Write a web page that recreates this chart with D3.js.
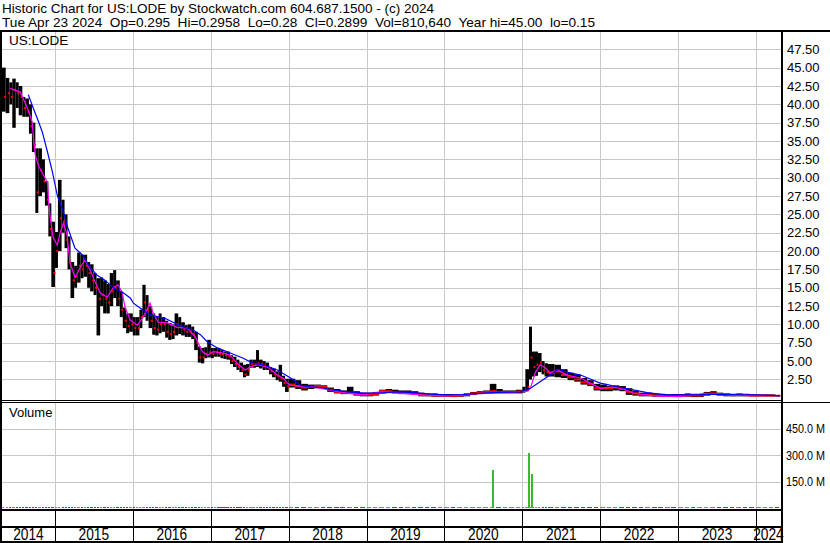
<!DOCTYPE html>
<html>
<head>
<meta charset="utf-8">
<script src="https://cdn.jsdelivr.net/npm/d3@7"></script>
<style>
  body { margin: 0; background: #fff; }
  svg { display: block; font-family: "Liberation Sans", Arial, sans-serif; }
  .pre { white-space: pre; }
</style>
</head>
<body>
<svg id="chart" width="830" height="543"></svg>
<script>
// ---- data (US:LODE, 10 yr) ----
var barDates = [
  "2014-04-24","2014-05-15","2014-06-01","2014-06-15","2014-07-01","2014-07-15","2014-08-01","2014-08-15",
  "2014-09-01","2014-09-15","2014-10-01","2014-10-15","2014-11-01","2014-11-15","2014-12-01","2014-12-15",
  "2015-01-01","2015-01-15","2015-02-01","2015-02-15","2015-03-01","2015-03-15","2015-04-01","2015-04-15",
  "2015-05-01","2015-05-15","2015-06-01","2015-06-15","2015-07-01","2015-07-15","2015-08-01","2015-08-15",
  "2015-09-01","2015-09-15","2015-10-01","2015-10-15","2015-11-01","2015-11-15","2015-12-01","2015-12-15",
  "2016-01-01","2016-01-15","2016-02-01","2016-02-15","2016-03-01","2016-03-15","2016-04-01","2016-04-15",
  "2016-05-01","2016-05-15","2016-06-01","2016-06-15","2016-07-01","2016-07-15","2016-08-01","2016-08-15",
  "2016-09-01","2016-09-15","2016-10-01","2016-10-15","2016-11-01","2016-11-15","2016-12-01","2016-12-15",
  "2017-01-01","2017-01-15","2017-02-01","2017-02-15","2017-03-01","2017-03-15","2017-04-01","2017-04-15",
  "2017-05-01","2017-05-15","2017-06-01","2017-06-15","2017-07-01","2017-07-15","2017-08-01","2017-08-15",
  "2017-09-01","2017-09-15","2017-10-01","2017-10-15","2017-11-01","2017-11-15","2017-12-01","2017-12-15",
  "2018-01-01","2018-02-01","2018-03-01","2018-04-01","2018-05-01","2018-06-01","2018-07-01","2018-08-01",
  "2018-09-01","2018-10-01","2018-11-01","2018-12-01",
  "2019-01-01","2019-02-01","2019-03-01","2019-04-01","2019-05-01","2019-06-01","2019-07-01","2019-08-01",
  "2019-09-01","2019-10-01","2019-11-01","2019-12-01",
  "2020-01-01","2020-02-01","2020-03-01","2020-04-01","2020-05-01","2020-06-01","2020-07-01","2020-08-01",
  "2020-09-01","2020-10-01","2020-11-01","2020-12-01",
  "2021-01-01","2021-01-15","2021-02-01","2021-02-15","2021-03-01","2021-03-15","2021-04-01","2021-04-15",
  "2021-05-01","2021-06-01","2021-07-01","2021-08-01","2021-09-01","2021-10-01","2021-11-01","2021-12-01",
  "2022-01-01","2022-02-01","2022-03-01","2022-04-01","2022-05-01","2022-06-01","2022-07-01","2022-08-01",
  "2022-09-01","2022-10-01","2022-11-01","2022-12-01",
  "2023-01-01","2023-02-01","2023-03-01","2023-04-01","2023-05-01","2023-06-01","2023-07-01","2023-08-01",
  "2023-09-01","2023-10-01","2023-11-01","2023-12-01",
  "2024-01-01","2024-02-01","2024-03-01","2024-04-01"
];
var barHigh = [
  45,43.6,43,43.5,43,42.5,41,40.8, 40,37.5,34,34,32.5,29.5,26.5,24,
  22.6,29.7,27,25,22,18.5,18,19.8, 19.5,19.5,18.5,18.2,17,16.3,16.4,16, 15.5,17,17.4,16,14.5,12.3,11.5,11.5,
  11,11,12,15.4,14,12.5,11.5,11, 11.5,11,10.5,10.2,10,11.5,11,10.3, 9.9,10,9.7,9,7,6.8,6.9,7.9,
  6.8,6.8,6.8,6.5,6.3,6.3,5.8,5.6, 5.2,4.8,4.5,4.6,5.2,5.2,6.5,5.2, 5,4.8,4.2,4,3.6,4.5,3,2.6,
  2.6,2.4,1.9,1.8,1.8,1.7,1.4,1.2,1.0,1.5,0.9,0.7,
  0.7,0.8,1.1,1.2,1.1,1.0,1.0,0.9,0.7,0.6,0.6,0.5,
  0.5,0.5,0.5,0.6,0.8,0.9,1.0,1.9,1.2,1.0,1.0,1.1,
  1.5,3.9,9.7,6.3,6.3,6.1,5.0,4.7, 4.6,4.5,3.9,3.4,3.2,2.7,2.4,1.9,
  1.8,1.6,1.7,1.6,1.3,1.0,0.7,0.7,0.6,0.55,0.5,0.5,
  0.5,0.6,0.55,0.5,0.8,0.9,0.7,0.6,0.55,0.6,0.55,0.5,
  0.45,0.45,0.45,0.3
];
var barLow = [
  39,38.8,40,36.8,39.5,38.5,38.3,38.3, 36,33.5,25.2,27.5,28,26.2,22,15.1,
  17.7,20,22.5,20.4,17.5,13.6,15,15.7, 16.3,16.5,15,14.5,14,8.5,12.5,11.5, 11.5,12.5,13.6,12.5,11,9.5,8.8,9,
  8.5,8.5,9.5,11,10.5,9.5,8.6,8.5, 8.8,9,8.2,7.9,8,8.5,8.7,8.5, 8.3,8.3,8,6.5,4.8,4.7,5.4,5.5,
  5.4,5.6,5.6,5.4,5.3,5.2,4.6,4.2, 3.8,3.5,2.8,3,4.1,4.1,4.2,4, 3.8,3.8,3.2,2.8,2.4,2.2,1.5,0.8,
  1.4,1.2,1.0,1.2,1.3,1.2,0.8,0.6,0.5,0.5,0.3,0.2,
  0.2,0.3,0.6,0.7,0.6,0.5,0.5,0.4,0.2,0.2,0.15,0.15,
  0.15,0.1,0.15,0.2,0.4,0.5,0.6,0.6,0.6,0.6,0.6,0.6,
  0.7,0.9,2.5,2.9,3.0,3.5,3.2,2.9, 2.9,2.8,2.7,2.4,2.2,1.8,1.6,1.0,
  0.9,0.9,1.0,0.9,0.4,0.3,0.2,0.2,0.15,0.15,0.15,0.1,
  0.15,0.15,0.1,0.1,0.3,0.4,0.3,0.2,0.2,0.2,0.2,0.2,
  0.2,0.2,0.2,0.28
];
var barClose = [
  41,41.5,41,42,41.5,41,39.5,39, 37,34.5,28,31,29.5,27,23,17,
  20,24.5,24,21.5,18.5,16,16.5,18, 17.5,18,17,16,15,13.5,14,13.5, 13,14.5,15,13.5,12,10.5,9.8,10,
  9.5,9.5,11,13,12,10.5,9.5,9.3, 10,10,9,8.7,9,10,9.8,9.3, 9,9,8.7,7.5,5.5,5.5,6,6.2,
  6,6.2,6,5.9,5.8,5.6,5,4.6, 4.2,3.8,3.2,3.8,4.6,4.6,4.7,4.6, 4.4,4.2,3.6,3.2,3,2.6,2,1.6,
  1.8,1.6,1.4,1.5,1.6,1.5,1.1,0.8,0.7,0.7,0.5,0.4,
  0.4,0.5,0.9,0.9,0.8,0.7,0.7,0.6,0.4,0.35,0.3,0.3,
  0.3,0.25,0.3,0.4,0.6,0.7,0.8,0.9,0.8,0.8,0.8,0.85,
  1.0,1.5,5.5,4.2,4.5,4.8,3.8,3.5, 3.4,3.6,3.1,2.8,2.5,2.1,1.9,1.3,
  1.3,1.3,1.4,1.2,0.8,0.6,0.4,0.4,0.35,0.3,0.3,0.25,
  0.3,0.35,0.3,0.3,0.55,0.6,0.5,0.4,0.35,0.4,0.35,0.3,
  0.3,0.3,0.3,0.29
];
// volume in millions, almost all of it sits on the floor of the panel
var barVolume = [
  4,3,4,3,3,4,3,3, 4,3,5,4,3,3,4,5,
  4,5,4,3,4,5,3,3, 3,4,3,3,4,5,3,3, 3,4,3,3,4,3,4,3,
  3,3,4,5,3,3,3,3, 3,3,3,4,3,3,3,3, 3,3,3,4,5,3,3,3,
  3,3,3,3,3,3,3,3, 3,3,4,3,3,3,4,3, 3,3,3,3,3,4,4,5,
  3,3,3,3,3,3,3,3,3,3,3,3,
  3,3,3,3,3,3,3,3,3,3,3,3,
  3,3,3,3,3,3,3,3,3,3,3,3,
  3,4,8,5,4,3,3,3, 3,3,3,3,3,3,3,3,
  3,3,3,3,3,3,3,3,3,3,3,3,
  3,3,3,3,3,3,3,3,3,3,3,3,
  3,3,3,3
];
var volSpikeDates = ["2020-08-12","2021-01-26","2021-01-28","2021-02-12","2021-02-15","2021-05-10","2022-01-03","2022-02-28","2023-03-01"];
var volSpikeValues = [216, 16, 315, 193, 12, 6, 5, 6, 5];
var volSpikeUp = [true, false, true, true, true, true, true, true, true];

// magenta = short moving average
var maShortDates = [
  "2014-06-05","2014-06-28","2014-07-22","2014-08-05","2014-08-29","2014-09-16","2014-09-25","2014-10-01",
  "2014-10-15","2014-11-03","2014-11-27","2014-12-01","2014-12-10","2014-12-24","2015-01-12","2015-01-26",
  "2015-02-10","2015-02-27","2015-03-12","2015-04-05","2015-04-28","2015-05-22","2015-06-15","2015-07-08",
  "2015-08-01","2015-09-03","2015-10-01","2015-10-24","2015-11-12","2015-11-26","2015-12-20","2016-01-22",
  "2016-02-19","2016-03-22","2016-04-06","2016-04-29","2016-06-11","2016-07-27","2016-09-13","2016-10-20",
  "2016-11-22","2016-12-16","2017-01-13","2017-03-01","2017-04-02","2017-05-04","2017-06-11","2017-07-04",
  "2017-08-07","2017-09-23","2017-11-09","2017-12-10","2017-12-25","2018-01-13","2018-02-26","2018-04-26",
  "2018-07-01","2018-10-03","2018-12-17","2019-03-06","2019-06-08","2019-09-11","2020-01-15","2020-04-18",
  "2020-07-20","2020-11-20","2021-01-25","2021-02-08","2021-03-02","2021-03-25","2021-04-18","2021-05-11",
  "2021-06-13","2021-07-30","2021-09-30","2021-11-16","2022-01-02","2022-03-02","2022-04-18","2022-06-04",
  "2022-09-07","2023-01-12","2023-05-08","2023-07-16","2023-10-18","2024-04-23"
];
var maShortValues = [
  42.2,41.9,41.7,40.8,39.2,37.6,34.5,33.1,
  31.7,30.6,29.4,27.2,24.5,21.8,20.8,22.6,
  23.8,22.2,18.5,16.4,17.7,18.8,17.4,15.8,
  14.3,13.7,15.0,15.4,14.4,12.3,10.6,9.9,
  11.0,12.9,11.5,10.3,10.2,9.6,9.5,8.3,
  6.3,5.8,6.3,6.1,5.8,4.7,3.8,4.2,
  4.5,4.2,3.1,2.6,2.0,1.7,1.6,1.5,
  1.1,0.65,0.4,0.8,0.65,0.4,0.25,0.5,
  0.65,0.8,0.9,1.3,3.4,4.5,4.1,3.4,
  3.8,3.1,2.7,2.0,1.3,1.5,1.2,0.65,
  0.25,0.15,0.6,0.5,0.35,0.3
];

// blue = long moving average
var maLongDates = [
  "2014-08-29","2014-09-21","2014-10-10","2014-11-03","2014-11-27","2014-12-20","2015-01-12","2015-02-10",
  "2015-03-03","2015-04-05","2015-05-13","2015-06-06","2015-07-18","2015-08-25","2015-10-01","2015-11-17",
  "2015-12-20","2016-01-04","2016-02-06","2016-03-22","2016-06-02","2016-08-11","2016-10-11","2016-11-13",
  "2016-12-16","2017-02-01","2017-04-02","2017-06-02","2017-07-19","2017-09-04","2017-11-09","2018-01-10",
  "2018-02-26","2018-04-12","2018-06-12","2018-07-15","2018-10-03","2018-12-17","2019-03-06","2019-05-25",
  "2019-08-08","2019-10-27","2020-01-15","2020-03-29","2020-06-17","2020-09-06","2020-12-23","2021-02-08",
  "2021-03-25","2021-05-11","2021-06-18","2021-07-30","2021-09-30","2021-11-30","2022-01-01","2022-02-04",
  "2022-04-04","2022-06-04","2022-08-09","2022-11-02","2023-04-14","2023-05-31","2023-09-16","2024-04-23"
];
var maLongValues = [
  41.3,39.5,38.1,36.2,33.5,30.8,27.6,25.3,
  23.1,20.4,19.4,18.1,16.7,16.0,15.0,14.3,
  13.6,12.9,12.2,11.3,10.8,9.8,9.2,8.6,
  7.6,6.8,6.1,5.4,4.7,4.5,3.8,2.7,
  1.7,1.5,1.4,1.1,0.8,0.65,0.65,0.8,
  0.7,0.5,0.4,0.45,0.6,0.75,0.8,1.3,
  2.2,3.1,3.9,3.5,3.1,2.4,2.0,1.8,
  1.4,1.1,0.7,0.4,0.4,0.5,0.45,0.3
];

var priceTicks = [2.5,5,7.5,10,12.5,15,17.5,20,22.5,25,27.5,30,32.5,35,37.5,40,42.5,45,47.5];
var volumeTicks = [150, 300, 450];
var volumeTickLabels = ["150.0 M", "300.0 M", "450.0 M"];
var yearLabels = ["2014","2015","2016","2017","2018","2019","2020","2021","2022","2023","2024"];

var titleText = "Historic Chart for US:LODE by Stockwatch.com 604.687.1500 - (c) 2024";
var quoteItems = ["Tue Apr 23 2024", "Op=0.295", "Hi=0.2958", "Lo=0.28", "Cl=0.2899", "Vol=810,640", "Year hi=45.00", "lo=0.15"];
var symbolName = "US:LODE";

// ---- drawing ----
var parse = d3.timeParse("%Y-%m-%d");
var startDate = parse("2014-04-23"), endDate = parse("2024-04-23");

var svg = d3.select("#chart");
var left = 2, right = 781;
var priceTop = 32, priceBot = 400, volTop = 403, volBot = 509;

var x = d3.scaleTime().domain([startDate, endDate]).range([1, 780]);
var y = d3.scaleLinear().domain([0, 47.5]).range([397.8, 49.3]);
var yv = d3.scaleLinear().domain([0, 600]).range([508, 402.5]);

var bars = barDates.map(function(d, i) {
  return { date: parse(d), high: barHigh[i], low: barLow[i], close: barClose[i], vol: barVolume[i],
           up: i == 0 ? true : barClose[i] >= barClose[i - 1] };
});
bars.forEach(function(b, i) {
  var next = i < bars.length - 1 ? bars[i + 1].date : endDate;
  b.x0 = x(b.date);
  b.span = x(next) - b.x0;
});

svg.append("rect").attr("width", 830).attr("height", 543).attr("fill", "#fff");

var defs = svg.append("defs");
defs.append("clipPath").attr("id", "priceClip")
  .append("rect").attr("x", left).attr("y", priceTop).attr("width", right - left).attr("height", priceBot - priceTop);
defs.append("clipPath").attr("id", "volClip")
  .append("rect").attr("x", left).attr("y", volTop).attr("width", right - left).attr("height", volBot - volTop);

var years = d3.range(2015, 2025).map(function(yr) { return new Date(yr, 0, 1); });
var grid = svg.append("g").attr("stroke", "#c8c8c8").attr("stroke-width", 1).attr("shape-rendering", "crispEdges");

// vertical year lines in both panels
grid.selectAll(".vp").data(years).enter().append("line")
  .attr("x1", function(d) { return Math.round(x(d)) + 0.5; })
  .attr("x2", function(d) { return Math.round(x(d)) + 0.5; })
  .attr("y1", priceTop).attr("y2", priceBot);
grid.selectAll(".vv").data(years).enter().append("line")
  .attr("x1", function(d) { return Math.round(x(d)) + 0.5; })
  .attr("x2", function(d) { return Math.round(x(d)) + 0.5; })
  .attr("y1", volTop).attr("y2", volBot);
grid.selectAll(".hp").data(priceTicks).enter().append("line")
  .attr("x1", left).attr("x2", right)
  .attr("y1", function(d) { return Math.round(y(d)) + 0.5; })
  .attr("y2", function(d) { return Math.round(y(d)) + 0.5; });
grid.selectAll(".hv").data(volumeTicks).enter().append("line")
  .attr("x1", left).attr("x2", right)
  .attr("y1", function(d) { return Math.round(yv(d)) + 0.5; })
  .attr("y2", function(d) { return Math.round(yv(d)) + 0.5; });

// volume
var vol = svg.append("g").attr("clip-path", "url(#volClip)").attr("shape-rendering", "crispEdges");
vol.selectAll(".vb").data(bars).enter().append("rect")
  .attr("x", function(d) { return d.x0; })
  .attr("width", function(d) { return Math.max(1, d.span * 0.7); })
  .attr("y", function(d) { return Math.min(yv(d.vol), yv(0) - 1.5); })
  .attr("height", function(d) { return Math.max(1.5, yv(0) - yv(d.vol)); })
  .attr("fill", function(d) { return d.up ? "#33bb33" : "#ee1111"; });
var spikes = volSpikeDates.map(function(d, i) { return { date: parse(d), v: volSpikeValues[i], up: volSpikeUp[i] }; });
vol.selectAll(".vs").data(spikes).enter().append("rect")
  .attr("x", function(d) { return x(d.date); })
  .attr("width", 1.5)
  .attr("y", function(d) { return yv(d.v); })
  .attr("height", function(d) { return yv(0) - yv(d.v); })
  .attr("fill", function(d) { return d.up ? "#33bb33" : "#ee1111"; });

// price bars + close ticks
var price = svg.append("g").attr("clip-path", "url(#priceClip)");
price.selectAll(".hl").data(bars).enter().append("rect")
  .attr("x", function(d) { return d.x0; })
  .attr("width", function(d) { return Math.max(1, d.span); })
  .attr("y", function(d) { return y(d.high); })
  .attr("height", function(d) { return Math.max(1, y(d.low) - y(d.high)); })
  .attr("fill", "#000");
price.selectAll(".cl").data(bars).enter().append("rect")
  .attr("x", function(d) { return d.span > 5 ? d.x0 : d.x0 + d.span - 1.5; })
  .attr("width", function(d) { return d.span > 5 ? d.span : 2; })
  .attr("y", function(d) { return y(d.close) - 1; })
  .attr("height", 2)
  .attr("fill", "#ff0000");

var line = d3.line()
  .x(function(d) { return x(d[0]); })
  .y(function(d) { return y(d[1]); });

price.append("path")
  .datum(maShortDates.map(function(d, i) { return [parse(d), maShortValues[i]]; }))
  .attr("d", line).attr("fill", "none").attr("stroke", "#ff00ff").attr("stroke-width", 1.2);
price.append("path")
  .datum(maLongDates.map(function(d, i) { return [parse(d), maLongValues[i]]; }))
  .attr("d", line).attr("fill", "none").attr("stroke", "#0000ff").attr("stroke-width", 1.2);

// frame
var frame = svg.append("g").attr("stroke", "#000").attr("shape-rendering", "crispEdges");
function hline(yy, x1, x2, w) { frame.append("line").attr("x1", x1).attr("x2", x2).attr("y1", yy).attr("y2", yy).attr("stroke-width", w); }
function vline(xx, y1, y2, w) { frame.append("line").attr("x1", xx).attr("x2", xx).attr("y1", y1).attr("y2", y2).attr("stroke-width", w); }
hline(31, 0, 830, 2);
vline(1, 30, 543, 2);
vline(781.5, 30, 543, 2);
hline(400.5, 0, 782, 1);
hline(402.5, 0, 830, 1);
hline(509.5, 0, 782, 2);
hline(527, 0, 782, 2);
hline(541.5, 0, 782, 2);
years.forEach(function(d) {
  vline(Math.round(x(d)) + 0.5, 510, 541, 1);
});

// texts
var txt = svg.append("g").attr("fill", "#000").attr("font-size", 13);
// header: title line, then the quote line
txt.append("text").attr("x", 2).attr("y", 13).attr("font-size", 13.5)
  .attr("textLength", 432).attr("lengthAdjust", "spacingAndGlyphs")
  .text(titleText);
txt.append("text").attr("class", "pre").attr("x", 2).attr("y", 27).attr("font-size", 13.5)
  .attr("textLength", 593).attr("lengthAdjust", "spacingAndGlyphs")
  .text(quoteItems.join("  "));
txt.append("text").attr("x", 9).attr("y", 45).attr("font-size", 13.5).text(symbolName);
txt.append("text").attr("x", 9).attr("y", 417).text("Volume");

txt.selectAll(".pt").data(priceTicks).enter().append("text")
  .attr("x", 787).attr("y", function(d) { return y(d); }).attr("dy", "0.36em")
  .text(function(d) { return d3.format(".2f")(d); });
// the volume labels run right up to the edge of the picture, squeeze them a bit
txt.selectAll(".vt").data(volumeTicks).enter().append("text")
  .attr("x", 786).attr("y", function(d) { return yv(d); }).attr("dy", "0.36em")
  .attr("font-size", 12)
  .attr("textLength", 39).attr("lengthAdjust", "spacingAndGlyphs")
  .text(function(d, i) { return volumeTickLabels[i]; });

// year labels centred in each year's slot along the bottom
yearLabels.forEach(function(lbl) {
  var yr = +lbl;
  var a = Math.max(left, x(new Date(yr, 0, 1)));
  var b = Math.min(right, x(new Date(yr + 1, 0, 1)));
  txt.append("text")
    .attr("transform", "translate(" + ((a + b) / 2) + ",540) scale(0.86,1)")
    .attr("text-anchor", "middle").attr("font-size", 16)
    .text(lbl);
});
</script>
</body>
</html>
